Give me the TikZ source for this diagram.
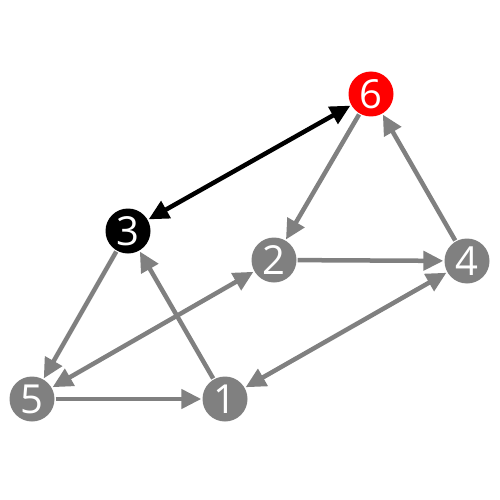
\documentclass[tikz,border=0pt]{standalone}
\usepackage{fontspec}
\setmainfont{Open Sans}
\usetikzlibrary{arrows.meta}
\definecolor{ggray}{RGB}{128,128,128}
\definecolor{rred}{RGB}{255,0,0}
\begin{document}
\begin{tikzpicture}[x=1pt,y=-1pt,
  vert/.style={circle,minimum size=45pt,inner sep=0pt,text=white,font=\fontsize{40}{40}\selectfont},
  gedge/.style={draw=ggray,line width=4.5pt,-{Triangle[length=20pt,width=19pt]},color=ggray,shorten >=1pt,shorten <=1pt},
  bedge/.style={draw=black,line width=4.5pt,{Triangle[length=20pt,width=19pt]}-{Triangle[length=20pt,width=19pt]},shorten >=1pt,shorten <=1pt}]
\useasboundingbox (0,0) rectangle (500,500);
\node[vert,fill=rred] (n6) at (371,94) {6};
\node[vert,fill=black] (n3) at (128,231) {3};
\node[vert,fill=ggray] (n2) at (274,260) {2};
\node[vert,fill=ggray] (n4) at (467,261) {4};
\node[vert,fill=ggray] (n5) at (32,399) {5};
\node[vert,fill=ggray] (n1) at (225,399) {1};
\draw[bedge] (n3) -- (n6);
\draw[gedge] (n6) -- (n2);
\draw[gedge] (n4) -- (n6);
\draw[gedge] (n2) -- (n4);
\draw[gedge] (n3) -- (n5);
\draw[gedge] (n1) -- (n3);
\draw[gedge,{Triangle[length=20pt,width=19pt]}-{Triangle[length=20pt,width=19pt]}] (n5) -- (n2);
\draw[gedge,{Triangle[length=20pt,width=19pt]}-{Triangle[length=20pt,width=19pt]}] (n1) -- (n4);
\draw[gedge] (n5) -- (n1);
\end{tikzpicture}
\end{document}
